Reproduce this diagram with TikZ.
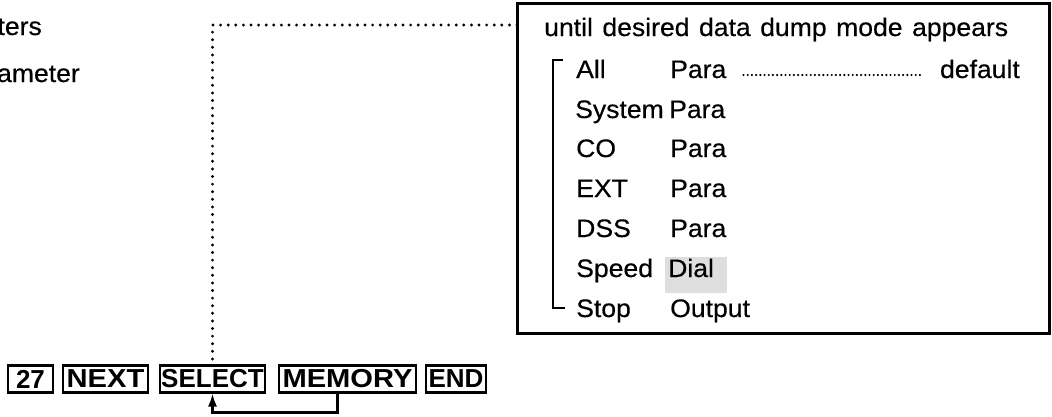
\documentclass[tikz,border=0pt]{standalone}
\usepackage{fontspec}
\setmainfont[FakeStretch=1.05,FakeBold=0.4]{Liberation Sans}
\newfontfamily\keyfont[FakeStretch=1.0]{Liberation Sans}
\newfontfamily\widekeyfont[FakeStretch=1.12]{Liberation Sans}
\usetikzlibrary{arrows.meta}
\begin{document}
\begin{tikzpicture}[x=1pt,y=-1pt,
  txt/.style={anchor=base west,inner sep=0pt,font=\fontsize{25.3}{30}\selectfont},
  keybox/.style={draw,line width=2.2pt,inner xsep=0pt,inner ysep=0pt,minimum height=27pt,
    outer sep=0pt,anchor=west,font=\keyfont\fontsize{26}{30}\selectfont\bfseries},
  widekey/.style={keybox,font=\widekeyfont\fontsize{26}{30}\selectfont\bfseries},
  dotline/.style={line width=3.2pt,dash pattern=on 0pt off 7.6pt,line cap=round},
  leader/.style={line width=2.4pt,dash pattern=on 0pt off 4.2pt,line cap=round},
  frame/.style={draw,line width=3pt,inner sep=0pt,outer sep=0pt,anchor=north west},
  bracket/.style={line width=2.6pt},
  hilite/.style={fill=black!13}]
\useasboundingbox (0,0) rectangle (1052,416);

% left cut-off texts
\node[txt,anchor=base east] (lt1) at (42,35) {ters};
\node[txt,anchor=base east] (lt2) at (80,82) {ameter};

% main box
\node[frame,minimum width=532pt,minimum height=330pt] (mainbox) at (517,3) {};

% highlight behind Dial
\fill[hilite] (665,257) rectangle (727,293);

\node[txt] (until) at (544,36) {\spaceskip=9.5pt plus 1pt until desired data dump mode appears};

\node[txt] (a1) at (576,78) {All};
\node[txt] (p1) at (670,78) {Para};
\node[txt,anchor=base east] (def) at (1020,78) {default};
\node[txt] (a2) at (575,118) {System};
\node[txt] (p2) at (669,118) {Para};
\node[txt] (a3) at (576,157) {CO};
\node[txt] (p3) at (670,157) {Para};
\node[txt] (a4) at (576,197) {EXT};
\node[txt] (p4) at (670,197) {Para};
\node[txt] (a5) at (576,237) {DSS};
\node[txt] (p5) at (670,237) {Para};
\node[txt] (a6) at (576,277) {Speed};
\node[txt] (p6) at (668,277) {Dial};
\node[txt] (a7) at (576,317) {Stop};
\node[txt] (p7) at (670,317) {Output};

\draw[leader] ([xshift=17pt,yshift=3pt]p1.base east) -- ([xshift=-19pt,yshift=3pt]def.base west);

% bracket
\draw[bracket] (563,60) -- (553,60) -- (553,308) -- (565,308);

% keys
\node[keybox,minimum width=45pt] (k27) at (8,379) {27};
\node[widekey,minimum width=85pt] (knext) at (63,379) {NEXT};
\node[keybox,minimum width=105pt] (kselect) at (160,379) {SELECT};
\node[widekey,minimum width=137pt] (kmemory) at (279,379) {MEMORY};
\node[keybox,minimum width=60pt] (kend) at (426,379) {END};

% dotted connector
\coordinate (turn) at (kselect.north |- 0,25);
\draw[dotline] (mainbox.west |- turn) -- (turn) -- ([yshift=2pt]kselect.north);

% return arrow
\coordinate (mstart) at ([xshift=-10pt]kmemory.south);
\draw[line width=2.2pt,-{Latex[length=13pt,width=9pt]}] (mstart) -- ++(0,20) -| ([yshift=-1pt]kselect.south);
\end{tikzpicture}
\end{document}
